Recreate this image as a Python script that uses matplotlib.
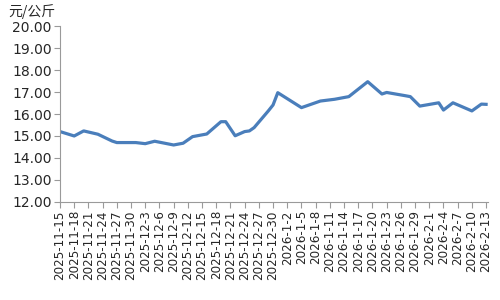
import matplotlib
matplotlib.use("Agg")
import matplotlib.pyplot as plt
import pandas as pd

# price series (vertices)
dates = ["2025-11-15", "2025-11-18", "2025-11-20", "2025-11-23", "2025-11-26",
         "2025-11-27", "2025-12-01", "2025-12-03", "2025-12-05", "2025-12-09",
         "2025-12-11", "2025-12-13", "2025-12-16", "2025-12-19", "2025-12-20",
         "2025-12-22", "2025-12-24", "2025-12-25", "2025-12-26", "2025-12-29",
         "2025-12-30", "2025-12-31", "2026-01-05", "2026-01-09", "2026-01-12",
         "2026-01-15", "2026-01-19", "2026-01-22", "2026-01-23", "2026-01-27",
         "2026-01-28", "2026-01-30", "2026-02-03", "2026-02-04", "2026-02-06",
         "2026-02-10", "2026-02-12", "2026-02-13"]
prices = [15.20, 15.00, 15.23, 15.08, 14.77,
          14.70, 14.70, 14.65, 14.76, 14.59,
          14.67, 14.97, 15.09, 15.65, 15.65,
          15.01, 15.20, 15.23, 15.38, 16.14,
          16.41, 16.97, 16.29, 16.59, 16.67,
          16.79, 17.47, 16.91, 16.98, 16.83,
          16.79, 16.36, 16.51, 16.18, 16.51,
          16.14, 16.45, 16.44]

start, end = "2025-11-15", "2026-02-13"
y_ticks = [12, 13, 14, 15, 16, 17, 18, 19, 20]
unit = "元/公斤"

start_ts = pd.Timestamp(start)
days = [(pd.Timestamp(d) - start_ts).days for d in dates]
tick_dates = pd.date_range(start, end, freq="3D")
tick_pos = [(d - start_ts).days for d in tick_dates]
tick_labels = [f"{d.year}-{d.month}-{d.day}" for d in tick_dates]

plt.rcParams["font.family"] = ["DejaVu Sans"]
fig = plt.figure(figsize=(5, 3), dpi=100)
ax = fig.add_axes([0.12, 0.327, 0.855, 0.586])

ax.plot(days, prices, color="#4a7ebb", lw=2.3, solid_joinstyle="round")

ax.set_xlim(0, (pd.Timestamp(end) - start_ts).days + 0.3)
ax.set_ylim(12, 20)
ax.set_yticks(y_ticks)
ax.set_yticklabels([f"{v:.2f}" for v in y_ticks], fontsize=10, color="#262626")
ax.set_xticks(tick_pos)
ax.set_xticklabels(tick_labels, rotation=90, fontsize=8.6, color="#262626")

for s in ["top", "right"]:
    ax.spines[s].set_visible(False)
for s in ["left", "bottom"]:
    ax.spines[s].set_color("#9a9a9a")
ax.tick_params(axis="both", colors="#9a9a9a", length=4, width=0.8,
               labelcolor="#262626", pad=2)

fig.text(0.016, 0.962, unit, fontsize=10, color="#262626",
         family=["Noto Sans CJK SC", "DejaVu Sans"], va="center")

fig.savefig("out.png", dpi=100)
